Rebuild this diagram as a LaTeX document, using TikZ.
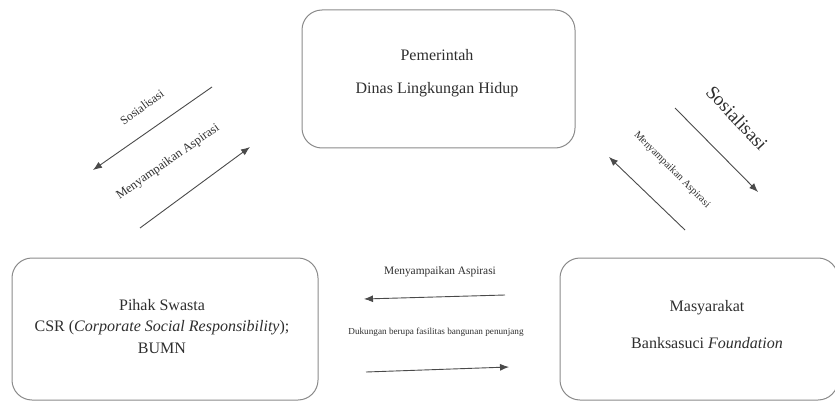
\documentclass[tikz,border=0pt]{standalone}
\usepackage{fontspec}
\setmainfont{Liberation Serif}
\usetikzlibrary{arrows.meta}
\definecolor{boxline}{HTML}{8A8A8A}
\definecolor{txt}{HTML}{2E2E2E}
\definecolor{arr}{HTML}{4A4A4A}
\tikzset{
  actor/.style={draw=boxline, line width=1pt, rounded corners=20pt, align=center, text=txt, inner sep=0pt},
  flow/.style={draw=arr, line width=0.9pt, -{Latex[length=9pt,width=7pt]}},
  lbl/.style={text=txt, inner sep=0pt},
}
\begin{document}
\begin{tikzpicture}[x=1pt,y=-1pt]
\useasboundingbox (0,0) rectangle (835,401);
\begin{scope}
\clip (0,0) rectangle (835,401);
\node[actor, minimum width=273pt, minimum height=138pt] (gov) at (438.5,79) {};
\node[actor, minimum width=306pt, minimum height=142pt] (swasta) at (165,329) {};
\node[actor, minimum width=278pt, minimum height=142pt] (masy) at (699,329) {};
\end{scope}
% box texts
\node[lbl, font=\fontsize{16}{19}\selectfont] (govA) at (437,55) {Pemerintah};
\node[lbl, font=\fontsize{16}{19}\selectfont] (govB) at (437,90) {Dinas Lingkungan Hidup};
\node[lbl, font=\fontsize{16}{19}\selectfont] (swA) at (162,305) {Pihak Swasta};
\node[lbl, font=\fontsize{16}{19}\selectfont] (swB) at (162,328) {CSR (\textit{Corporate Social Responsibility});};
\node[lbl, font=\fontsize{16}{19}\selectfont] (swC) at (162,348) {BUMN};
\node[lbl, font=\fontsize{16}{19}\selectfont] (maA) at (707,308) {Masyarakat};
\node[lbl, font=\fontsize{16}{19}\selectfont] (maB) at (707,343) {Banksasuci \textit{Foundation}};
% left diagonal arrows
\coordinate (l1s) at (212,87);
\coordinate (l1e) at (93,170);
\draw[flow] (l1s) -- (l1e);
\node[lbl, rotate=36, font=\fontsize{12}{14}\selectfont] (l1t) at (142,107) {Sosialisasi};
\coordinate (l2s) at (140,228);
\coordinate (l2e) at (250,147);
\draw[flow] (l2s) -- (l2e);
\node[lbl, rotate=35, font=\fontsize{12.5}{14}\selectfont] (l2t) at (168,162) {Menyampaikan Aspirasi};
% right diagonal arrows
\coordinate (r1s) at (675,108);
\coordinate (r1e) at (758,192);
\draw[flow] (r1s) -- (r1e);
\node[lbl, rotate=-47, font=\fontsize{19}{22}\selectfont] (r1t) at (737,118) {Sosialisasi};
\coordinate (r2s) at (685,230);
\coordinate (r2e) at (609,157);
\draw[flow] (r2s) -- (r2e);
\node[lbl, rotate=-45, font=\fontsize{10.5}{12}\selectfont] (r2t) at (672,170) {Menyampaikan Aspirasi};
% bottom arrows
\coordinate (b1s) at (505,295);
\coordinate (b1e) at (364,299);
\draw[flow] (b1s) -- (b1e);
\node[lbl, font=\fontsize{11.4}{13}\selectfont] (b1t) at (440,272) {Menyampaikan Aspirasi};
\coordinate (b2s) at (366,372);
\coordinate (b2e) at (509,367);
\draw[flow] (b2s) -- (b2e);
\node[lbl, font=\fontsize{9.2}{11}\selectfont] (b2t) at (436,332) {Dukungan berupa fasilitas bangunan penunjang};
\end{tikzpicture}
\end{document}
